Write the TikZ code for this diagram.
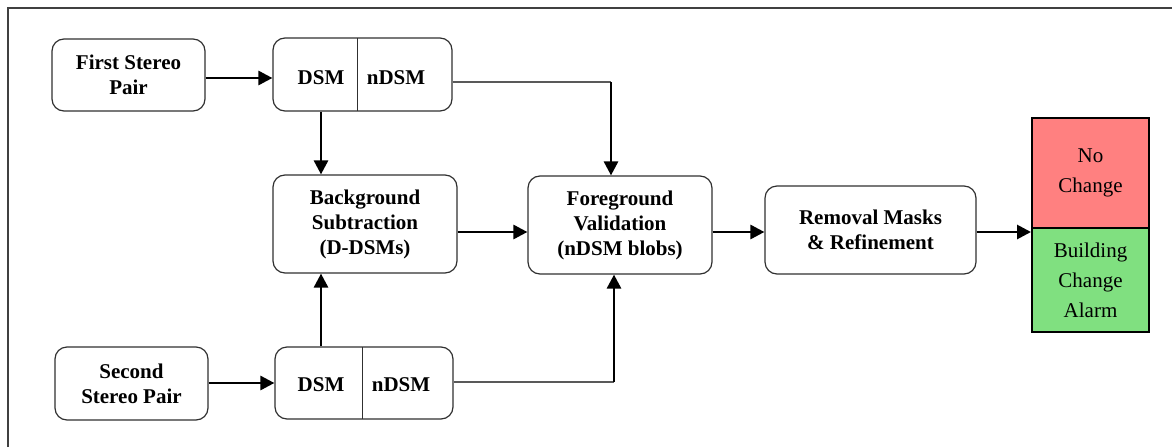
\documentclass[tikz,border=0pt]{standalone}
\usepackage{fontspec}
\setmainfont{Liberation Serif}
\newfontfamily\timesfont{Liberation Serif}
\usetikzlibrary{arrows.meta}
\definecolor{redbox}{HTML}{FF8080}
\definecolor{greenbox}{HTML}{80E080}
\definecolor{edge}{HTML}{303030}
\tikzset{
  proc/.style={draw=edge, line width=1.2pt, rounded corners=12pt, align=center,
    font=\timesfont\fontsize{21}{25}\selectfont\bfseries, inner sep=0pt},
  lbl/.style={font=\timesfont\fontsize{21}{25}\selectfont\bfseries, inner sep=0pt},
  outbox/.style={draw=black, line width=2pt, align=center,
    font=\timesfont\fontsize{21}{30}\selectfont, inner sep=0pt, minimum width=117pt},
  flow/.style={line width=2.8pt, -{Triangle[length=14pt,width=14pt]}},
  thin/.style={draw=edge!80, line width=1.1pt},
  frame/.style={draw=black!75, line width=1.5pt}
}
\begin{document}
\begin{tikzpicture}[x=1pt,y=-1pt]
\useasboundingbox (0,0) rectangle (1172,447);
\draw[frame] (8,447) -- (8,8) -- (1172,8);

\node[proc, minimum width=153pt, minimum height=72pt] (fsp) at (128.5,75) {First Stereo\\Pair};
\node[proc, minimum width=153pt, minimum height=73pt] (ssp) at (131.5,383.5) {Second\\Stereo Pair};

\node[proc, minimum width=179pt, minimum height=73pt] (dsm1) at (362.5,74.5) {};
\draw[edge, line width=1pt] (357,38) -- (357,111);
\node[lbl] (d1) at (321,78) {DSM};
\node[lbl] (n1) at (396,78) {nDSM};

\node[proc, minimum width=178pt, minimum height=72pt] (dsm2) at (364,383) {};
\draw[edge, line width=1pt] (362,347) -- (362,419);
\node[lbl] (d2) at (321,385) {DSM};
\node[lbl] (n2) at (401,385) {nDSM};

\node[proc, minimum width=184pt, minimum height=98pt] (bg) at (365,224) {Background\\Subtraction\\(D-DSMs)};
\node[proc, minimum width=184pt, minimum height=98pt] (fg) at (620,225) {Foreground\\Validation\\(nDSM blobs)};
\node[proc, minimum width=211pt, minimum height=88pt] (rm) at (870.5,230) {Removal Masks\\\& Refinement};

\node[outbox, fill=redbox, minimum height=110pt] (nc) at (1090.5,173) {No\\Change};
\node[outbox, fill=greenbox, minimum height=104pt] (bca) at (1090.5,280) {Building\\Change\\Alarm};

\coordinate (row) at (0,232);
\coordinate (top) at (0,78);
\coordinate (bot) at (0,383);
\coordinate (c1) at (611,82);
\coordinate (c2) at (614,382);

\draw[flow] (fsp.east |- top) -- (dsm1.west |- top);
\draw[flow] (ssp.east |- bot) -- (dsm2.west |- bot);
\draw[flow] (d1 |- dsm1.south) -- (d1 |- bg.north);
\draw[flow] (d2 |- dsm2.north) -- (d2 |- bg.south);
\draw[thin] (dsm1.east |- c1) -- (c1);
\draw[flow] (c1) -- (c1 |- fg.north);
\draw[thin] (dsm2.east |- c2) -- (c2);
\draw[flow] (c2) -- (c2 |- fg.south);
\draw[flow] (bg.east |- row) -- (fg.west |- row);
\draw[flow] (fg.east |- row) -- (rm.west |- row);
\draw[flow] (rm.east |- row) -- (bca.west |- row);
\end{tikzpicture}
\end{document}
